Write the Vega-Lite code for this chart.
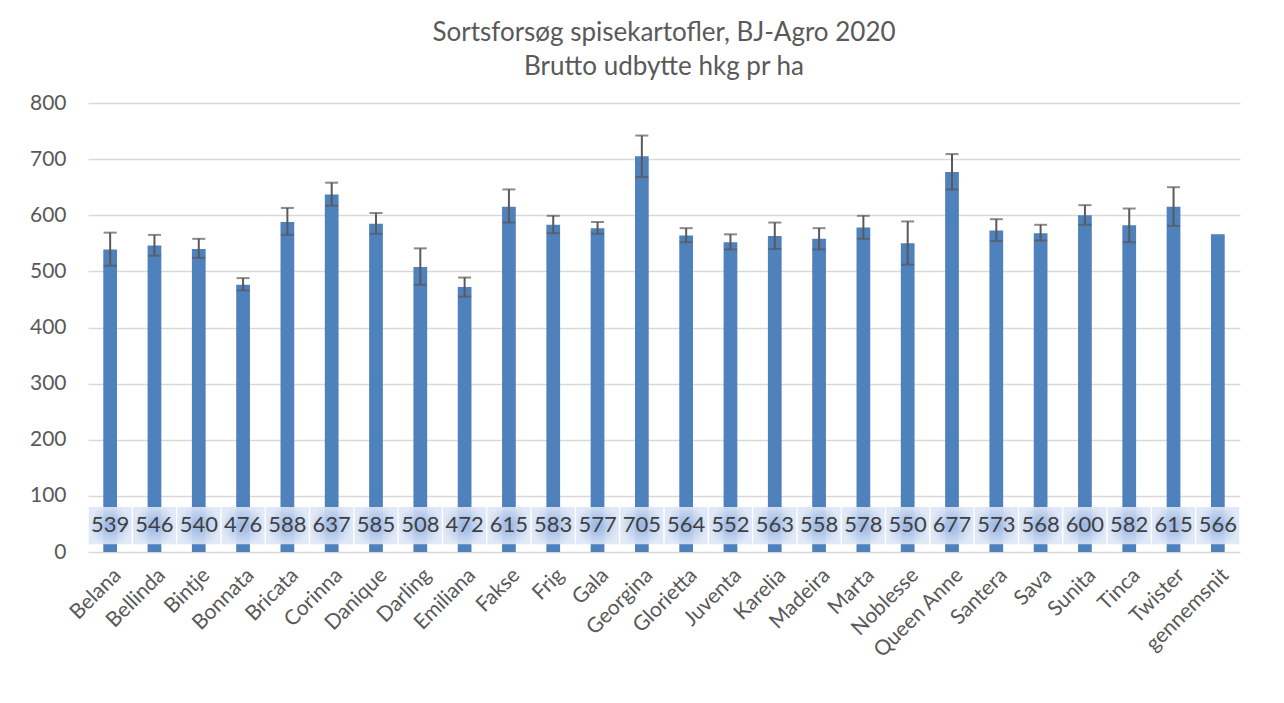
{
  "$schema": "https://vega.github.io/schema/vega-lite/v6.json",
  "width": 1152,
  "height": 449,
  "autosize": {"type": "none"},
  "padding": {"left": 88, "top": 103, "right": 44, "bottom": 151},
  "background": "#ffffff",
  "title": {
    "text": ["Sortsforsøg spisekartofler, BJ-Agro 2020", "Brutto udbytte hkg pr ha"],
    "font": "Lato",
    "fontSize": 26,
    "fontWeight": "normal",
    "color": "#595959",
    "lineHeight": 34,
    "offset": 12,
    "anchor": "middle",
    "frame": "group"
  },
  "config": {
    "view": {"stroke": null},
    "font": "Lato"
  },
  "data": {
    "values": [
      {"sort": "Belana", "udbytte": 539, "lo": 510, "hi": 569},
      {"sort": "Bellinda", "udbytte": 546, "lo": 528, "hi": 565},
      {"sort": "Bintje", "udbytte": 540, "lo": 524, "hi": 558},
      {"sort": "Bonnata", "udbytte": 476, "lo": 466, "hi": 488},
      {"sort": "Bricata", "udbytte": 588, "lo": 565, "hi": 613},
      {"sort": "Corinna", "udbytte": 637, "lo": 617, "hi": 658},
      {"sort": "Danique", "udbytte": 585, "lo": 567, "hi": 604},
      {"sort": "Darling", "udbytte": 508, "lo": 476, "hi": 541},
      {"sort": "Emiliana", "udbytte": 472, "lo": 455, "hi": 489},
      {"sort": "Fakse", "udbytte": 615, "lo": 587, "hi": 646},
      {"sort": "Frig", "udbytte": 583, "lo": 568, "hi": 599},
      {"sort": "Gala", "udbytte": 577, "lo": 567, "hi": 588},
      {"sort": "Georgina", "udbytte": 705, "lo": 668, "hi": 742},
      {"sort": "Glorietta", "udbytte": 564, "lo": 552, "hi": 577},
      {"sort": "Juventa", "udbytte": 552, "lo": 539, "hi": 566},
      {"sort": "Karelia", "udbytte": 563, "lo": 540, "hi": 587},
      {"sort": "Madeira", "udbytte": 558, "lo": 539, "hi": 577},
      {"sort": "Marta", "udbytte": 578, "lo": 558, "hi": 599},
      {"sort": "Noblesse", "udbytte": 550, "lo": 512, "hi": 589},
      {"sort": "Queen Anne", "udbytte": 677, "lo": 646, "hi": 709},
      {"sort": "Santera", "udbytte": 573, "lo": 554, "hi": 593},
      {"sort": "Sava", "udbytte": 568, "lo": 555, "hi": 583},
      {"sort": "Sunita", "udbytte": 600, "lo": 583, "hi": 618},
      {"sort": "Tinca", "udbytte": 582, "lo": 552, "hi": 612},
      {"sort": "Twister", "udbytte": 615, "lo": 581, "hi": 650},
      {"sort": "gennemsnit", "udbytte": 566, "lo": null, "hi": null}
    ]
  },
  "encoding": {
    "x": {
      "field": "sort",
      "type": "nominal",
      "sort": null,
      "scale": {"paddingInner": 0, "paddingOuter": 0},
      "axis": {
        "title": null,
        "labelAngle": -45,
        "labelFont": "Lato",
        "labelFontSize": 21,
        "labelColor": "#595959",
        "ticks": false,
        "domain": false,
        "labelPadding": 12
      }
    }
  },
  "layer": [
    {
      "mark": {"type": "bar", "color": "#4f81bd", "width": {"band": 0.31}},
      "encoding": {
        "y": {
          "field": "udbytte",
          "type": "quantitative",
          "scale": {"domain": [0, 800], "nice": false},
          "axis": {
            "title": null,
            "values": [0, 100, 200, 300, 400, 500, 600, 700, 800],
            "labelFont": "Lato",
            "labelFontSize": 21,
            "labelColor": "#595959",
            "labelPadding": 22,
            "ticks": false,
            "domain": false,
            "grid": true,
            "gridColor": "#d9d9d9",
            "gridWidth": 1.5
          }
        }
      }
    },
    {
      "mark": {"type": "rule", "color": "#595959", "strokeWidth": 2},
      "encoding": {
        "y": {"field": "lo", "type": "quantitative"},
        "y2": {"field": "hi"}
      }
    },
    {
      "mark": {"type": "tick", "color": "#595959", "thickness": 2, "size": 13},
      "encoding": {"y": {"field": "lo", "type": "quantitative"}}
    },
    {
      "mark": {"type": "tick", "color": "#595959", "thickness": 2, "size": 13},
      "encoding": {"y": {"field": "hi", "type": "quantitative"}}
    },
    {
      "mark": {
        "type": "bar",
        "width": {"band": 0.97},
        "fill": {
          "gradient": "radial",
          "stops": [
            {"offset": 0, "color": "#9cb8e6"},
            {"offset": 1, "color": "#dfe8f6"}
          ]
        },
        "opacity": 0.95
      },
      "encoding": {
        "y": {"datum": 80},
        "y2": {"datum": 14}
      }
    },
    {
      "mark": {
        "type": "text",
        "font": "Lato",
        "fontSize": 22,
        "color": "#404040",
        "baseline": "middle",
        "align": "center"
      },
      "encoding": {
        "y": {"datum": 48},
        "text": {"field": "udbytte", "type": "quantitative"}
      }
    }
  ]
}
